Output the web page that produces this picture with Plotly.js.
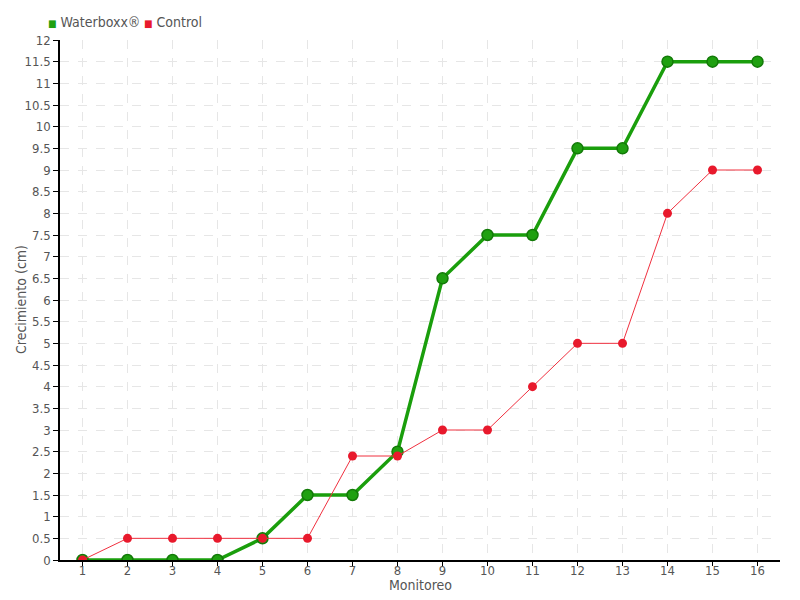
<!DOCTYPE html>
<html><head><meta charset="utf-8">
<script src="https://cdn.plot.ly/plotly-3.0.1.min.js"></script>
<style>body{margin:0;background:#fff}#c{width:800px;height:600px}</style>
</head><body><div id="c"></div>
<script>
var monitoreo = [1,2,3,4,5,6,7,8,9,10,11,12,13,14,15,16];
var waterboxx = [0,0,0,0,0.5,1.5,1.5,2.5,6.5,7.5,7.5,9.5,9.5,11.5,11.5,11.5];
var control = [0,0.5,0.5,0.5,0.5,0.5,2.4,2.4,3,3,4,5,5,8,9,9];
var seriesNames = ['Waterboxx®', 'Control'];
var seriesColors = ['#1fa010', '#e8192c'];
var xTitle = 'Monitoreo';
var yTitle = 'Crecimiento (cm)';
var yTicks = [];
for (var v = 0; v <= 12; v += 0.5) yTicks.push(v);

var font = {family: '"DejaVu Sans Condensed", "Liberation Sans Narrow", sans-serif', size: 14, color: '#555'};
var tickFont = {family: font.family, size: 13, color: '#555'};
var traces = [
  {x: monitoreo, y: waterboxx, name: seriesNames[0], mode: 'lines+markers', type: 'scatter', showlegend: false,
   line: {color: '#1a9e0c', width: 3.5},
   marker: {color: seriesColors[0], size: 11, line: {color: '#137a08', width: 1.5}}},
  {x: monitoreo, y: control, name: seriesNames[1], mode: 'lines+markers', type: 'scatter', showlegend: false,
   line: {color: '#f0303f', width: 1},
   marker: {color: seriesColors[1], size: 9}}
];
var legendX = [46, 142];
var annotations = seriesNames.map(function (n, i) {
  return {xref: 'paper', yref: 'paper', x: (legendX[i] - 60) / 720, y: 1 + (40 - 22) / 520,
          xanchor: 'left', yanchor: 'middle', showarrow: false, align: 'left',
          text: '<span style="color:' + seriesColors[i] + ';font-size:10px">■</span> ' + n,
          font: font};
});
annotations.push({xref: 'paper', yref: 'paper', x: 0.5, y: -(585 - 560) / 520, xanchor: 'center', yanchor: 'middle',
                  showarrow: false, text: xTitle, font: font});
annotations.push({xref: 'paper', yref: 'paper', x: -(60 - 21) / 720, y: 0.5, xanchor: 'center', yanchor: 'middle',
                  showarrow: false, text: yTitle, textangle: -90, font: font});
var layout = {
  width: 800, height: 600,
  margin: {l: 60, r: 20, t: 40, b: 40},
  paper_bgcolor: '#fff', plot_bgcolor: '#fff',
  font: font,
  showlegend: false,
  annotations: annotations,
  xaxis: {range: [0.5, 16.5], tickvals: monitoreo, ticktext: monitoreo.map(String), tickfont: tickFont,
          showline: true, linecolor: '#000', linewidth: 1.5, ticks: 'outside', ticklen: 4, tickcolor: '#000',
          ticklabelstandoff: -6,
          showgrid: true, gridcolor: '#e6e6e6', griddash: 'dash', zeroline: false},
  yaxis: {range: [0, 12], tickvals: yTicks, ticktext: yTicks.map(String), tickfont: tickFont,
          showline: true, linecolor: '#000', linewidth: 1.5, ticks: 'outside', ticklen: 5, tickcolor: '#000',
          showgrid: true, gridcolor: '#e6e6e6', griddash: 'dash', zeroline: false}
};
Plotly.newPlot('c', traces, layout, {displayModeBar: false});
</script></body></html>
